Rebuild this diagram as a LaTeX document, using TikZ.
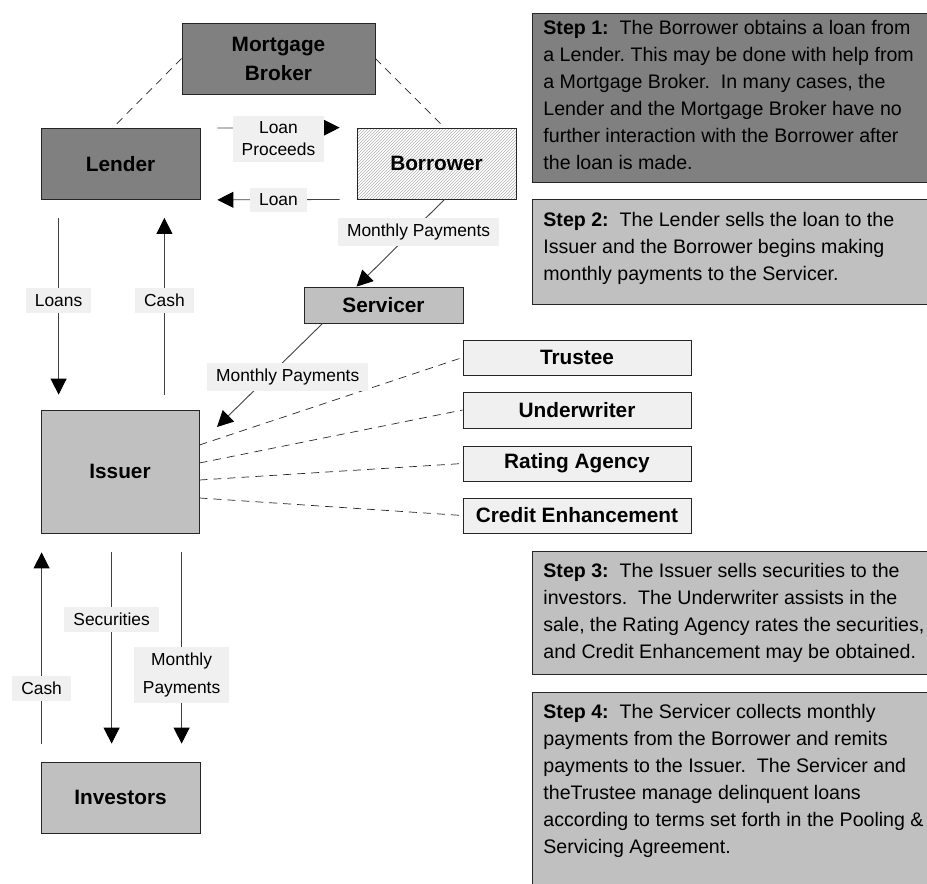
\documentclass[tikz,border=0pt]{standalone}
\usepackage{fontspec}
\setmainfont{Liberation Sans}
\usetikzlibrary{arrows.meta,patterns}
\frenchspacing

\definecolor{darkbox}{HTML}{808080}
\definecolor{lightbox}{HTML}{C0C0C0}
\definecolor{dotbox}{HTML}{F0F0F0}

\begin{document}
\begin{tikzpicture}[x=1pt,y=-1pt,
    flow/.style={draw=black!75, line width=0.9pt, -{Triangle[length=16pt,width=16pt,color=black]}},
    link/.style={draw=black!85, line width=0.7pt, dash pattern=on 8pt off 6pt},
    tag/.style={fill=dotbox, font=\fontsize{17.4}{22}\selectfont, inner xsep=9pt, inner ysep=6pt, align=center}]

  \useasboundingbox (0,0) rectangle (927,884);

  % parties
  \begin{scope}[every node/.style={draw=black!85, line width=0.8pt, inner sep=0pt, align=center,
      font=\bfseries\fontsize{20.8}{29}\selectfont}]
    \node[fill=darkbox, minimum width=193pt, minimum height=71pt] (broker) at (278.5,58.5) {Mortgage\\Broker};
    \node[fill=darkbox, minimum width=159pt, minimum height=71pt] (lender) at (120.5,164) {Lender};
    \node[pattern=north east lines, pattern color=black!30, minimum width=159pt, minimum height=71pt] (borrower) at (436.5,163.5) {Borrower};
    \node[fill=lightbox, minimum width=159pt, minimum height=36pt] (servicer) at (383.5,305) {Servicer};
    \node[fill=lightbox, minimum width=158pt, minimum height=123pt] (issuer) at (120,471.5) {Issuer};
    \node[fill=lightbox, minimum width=159pt, minimum height=71pt] (investors) at (120.5,797.5) {Investors};
    \node[fill=dotbox, minimum width=228pt, minimum height=35pt] (trustee) at (577,357.5) {Trustee};
    \node[fill=dotbox, minimum width=228pt, minimum height=36pt] (underwriter) at (577,410) {Underwriter};
    \node[fill=dotbox, minimum width=228pt, minimum height=35pt] (rating) at (577,463.5) {Rating Agency};
    \node[fill=dotbox, minimum width=228pt, minimum height=35pt] (credit) at (577,515.5) {Credit Enhancement};
  \end{scope}

  % steps
  \begin{scope}[every node/.style={draw=black!85, line width=0.8pt, anchor=north west, inner xsep=11pt, inner ysep=0pt,
      font=\fontsize{19.6}{27}\selectfont}]
    \node[fill=darkbox] (step1) at (532,13) {\parbox[c][169pt][t]{381pt}{\raggedright\vspace*{7pt}%
      \textbf{Step 1:}\ \ The Borrower obtains a loan from\\
      a Lender. This may be done with help from\\
      a Mortgage Broker.\ \ In many cases, the\\
      Lender and the Mortgage Broker have no\\
      further interaction with the Borrower after\\
      the loan is made.}};
    \node[fill=lightbox] (step2) at (532,199) {\parbox[c][105pt][t]{381pt}{\raggedright\vspace*{13pt}%
      \textbf{Step 2:}\ \ The Lender sells the loan to the\\
      Issuer and the Borrower begins making\\
      monthly payments to the Servicer.}};
    \node[fill=lightbox] (step3) at (532,551) {\parbox[c][123pt][t]{381pt}{\raggedright\vspace*{12pt}%
      \textbf{Step 3:}\ \ The Issuer sells securities to the\\
      investors.\ \ The Underwriter assists in the\\
      sale, the Rating Agency rates the securities,\\
      and Credit Enhancement may be obtained.}};
    \node[fill=lightbox] (step4) at (532,692) {\parbox[c][205pt][t]{381pt}{\raggedright\vspace*{12pt}%
      \textbf{Step 4:}\ \ The Servicer collects monthly\\
      payments from the Borrower and remits\\
      payments to the Issuer.\ \ The Servicer and\\
      theTrustee manage delinquent loans\\
      according to terms set forth in the Pooling \&\\
      Servicing Agreement.}};
  \end{scope}

  % dashed ties
  \draw[link] (broker.west) -- ([xshift=-8pt]lender.north);
  \draw[link] (broker.east) -- ([xshift=8pt]borrower.north);
  \draw[link] ([yshift=26.5pt]issuer.east) -- (trustee.west);
  \draw[link] ([yshift=8.5pt]issuer.east) -- (underwriter.west);
  \draw[link] ([yshift=-8.5pt]issuer.east) -- (rating.west);
  \draw[link] ([yshift=-26.5pt]issuer.east) -- (credit.west);

  % money and loan flows
  \coordinate (mpend) at (217,427);
  \draw[flow, shorten <=17pt, shorten >=17pt] (lender.north east) -- (borrower.north west)
    node[tag, midway, yshift=-11pt] {Loan\\Proceeds};
  \draw[flow, shorten <=17pt, shorten >=17pt] (borrower.south west) -- (lender.south east)
    node[tag, midway] {Loan};
  \draw[flow, shorten <=18pt, shorten >=15pt] ([xshift=18pt]lender.south west) -- ([xshift=18pt]issuer.north west)
    node[tag, pos=0.48] {Loans};
  \draw[flow, shorten <=15pt, shorten >=18pt] ([xshift=-35pt]issuer.north east) -- ([xshift=-36pt]lender.south east)
    node[tag, pos=0.52] {Cash};
  \draw[flow] ([xshift=88pt]borrower.south west) -- ([xshift=53pt]servicer.north west)
    node[tag, pos=0.375, xshift=7pt] {Monthly Payments};
  \draw[flow] ([xshift=19pt]servicer.south west) -- (mpend)
    node[tag, pos=0.52, xshift=20pt] {Monthly Payments};
  \draw[flow, shorten <=18pt, shorten >=19pt] ([xshift=1pt]investors.north west) -- ([xshift=1pt]issuer.south west)
    node[tag, pos=0.32] {Cash};
  \draw[flow, shorten <=19pt, shorten >=18pt] ([xshift=71pt]issuer.south west) -- ([xshift=71pt]investors.north west)
    node[tag, pos=0.376] {Securities};
  \draw[flow, shorten <=19pt, shorten >=18pt] ([xshift=141pt]issuer.south west) -- ([xshift=141pt]investors.north west)
    node[tag, pos=0.62, font=\fontsize{17.4}{28}\selectfont] {Monthly\\Payments};

\end{tikzpicture}
\end{document}
